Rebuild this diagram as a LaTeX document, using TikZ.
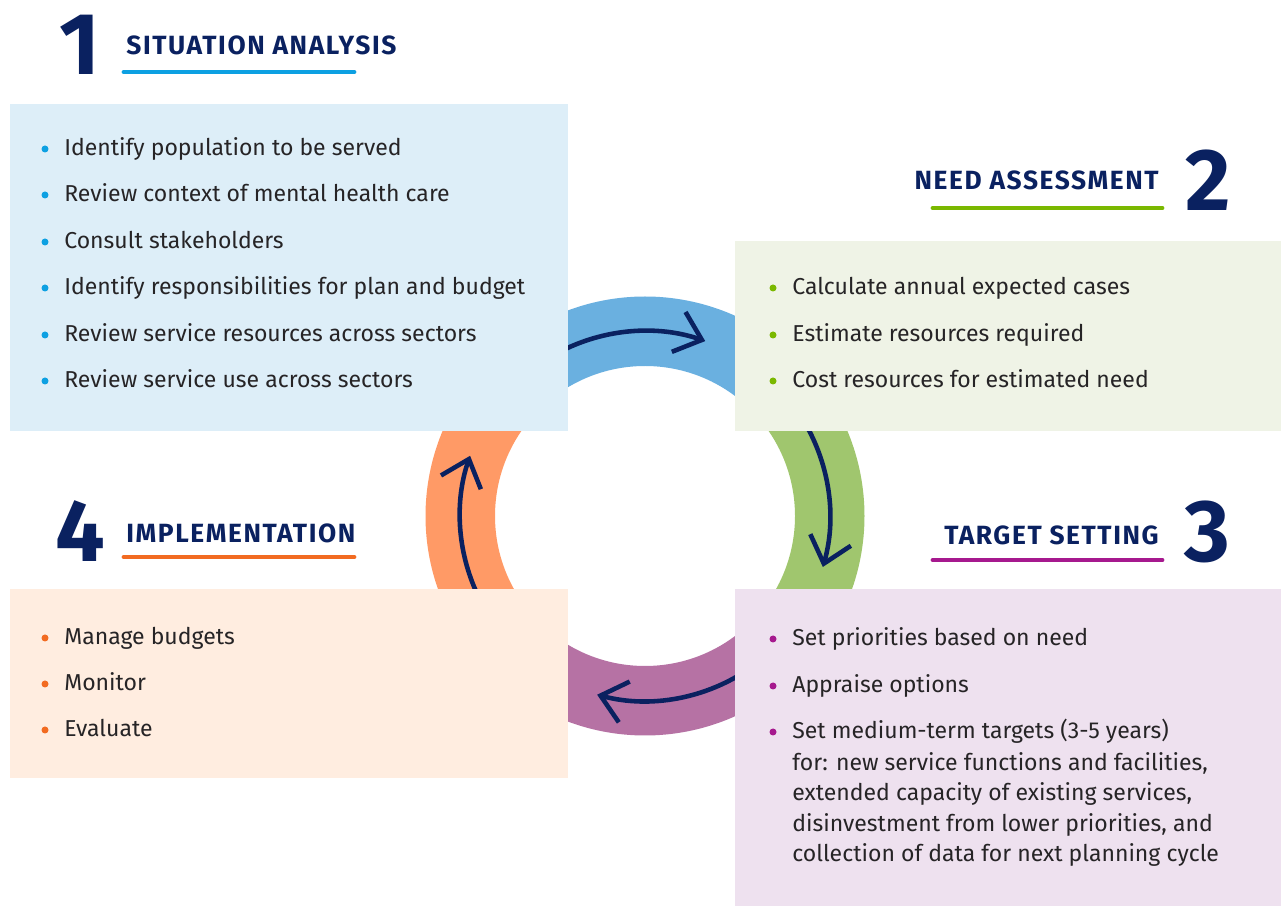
\documentclass[tikz,border=0pt]{standalone}
\usepackage{fontspec}
\setmainfont{Fira Sans}
\usepackage{tikz}
\usetikzlibrary{arrows.meta}
\definecolor{navy}{RGB}{10,33,96}
\definecolor{txt}{RGB}{38,36,38}
\definecolor{boxblue}{RGB}{221,238,248}
\definecolor{boxgreen}{RGB}{239,243,230}
\definecolor{boxpurple}{RGB}{238,225,239}
\definecolor{boxorange}{RGB}{255,237,224}
\definecolor{ringblue}{RGB}{106,176,224}
\definecolor{ringgreen}{RGB}{160,198,110}
\definecolor{ringpurple}{RGB}{182,114,164}
\definecolor{ringorange}{RGB}{255,154,102}
\definecolor{accblue}{RGB}{13,160,226}
\definecolor{accgreen}{RGB}{122,184,0}
\definecolor{accpurple}{RGB}{166,25,142}
\definecolor{accorange}{RGB}{242,107,33}

\begin{document}
\begin{tikzpicture}[x=0.02cm,y=-0.02cm,
  item/.style={anchor=base west,inner sep=0pt,text=txt,font=\fontsize{13.1}{16}\selectfont},
  head/.style={inner sep=0pt,text=navy,font=\fontsize{15}{17}\selectfont\bfseries\addfontfeatures{LetterSpace=6}},
  num/.style={inner sep=0pt,text=navy,font=\fontsize{50}{52}\selectfont\bfseries},
  uline/.style={line width=2.8pt,line cap=round},
  cyc/.style={navy,line width=2.6pt,-{Straight Barb[length=14pt,width=24pt]}}]
  \useasboundingbox (0,0) rectangle (1282,908);
  % ring
  \begin{scope}[shift={(645,516)},yscale=-1]
    \foreach \a/\c in {45/ringblue,-45/ringgreen,225/ringpurple,135/ringorange}
      \fill[\c] (\a:219.5) arc[start angle=\a,end angle=\a+90,radius=219.5]
        -- (\a+90:150) arc[start angle=\a+90,end angle=\a,radius=150] -- cycle;
    \draw[cyc] (118:185) arc[start angle=118,end angle=71,radius=185];
    \draw[cyc] (30:185) arc[start angle=30,end angle=-16,radius=185];
    \draw[cyc] (305:185) arc[start angle=305,end angle=255,radius=185];
    \draw[cyc] (205:185) arc[start angle=205,end angle=161,radius=185];
  \end{scope}
  % boxes
  \fill[boxblue] (10,104) rectangle (568,431);
  \fill[boxgreen] (735,241) rectangle (1281,431);
  \fill[boxpurple] (735,589) rectangle (1281,906);
  \fill[boxorange] (10,589) rectangle (568,778);
  % headings
  \node[num,anchor=base west] (n1) at (59,75) {1};
  \node[head,anchor=base west] (h1) at (126,55) {SITUATION ANALYSIS};
  \draw[uline,accblue] (124,72) -- (354,72);
  \node[num,anchor=base east] (n2) at (1231,211) {2};
  \node[head,anchor=base east] (h2) at (1159,190) {NEED ASSESSMENT};
  \draw[uline,accgreen] (933,208) -- (1162,208);
  \node[num,anchor=base east] (n3) at (1231,562) {3};
  \node[head,anchor=base east] (h3) at (1159,545) {TARGET SETTING};
  \draw[uline,accpurple] (933,560) -- (1162,560);
  \node[num,anchor=base west] (n4) at (55,562) {4};
  \node[head,anchor=base west] (h4) at (126,543) {IMPLEMENTATION};
  \draw[uline,accorange] (124,557) -- (354,557);
  % bullet lists
  \foreach \y/\t [count=\i] in {156/Identify population to be served,
      202/Review context of mental health care,249/Consult stakeholders,
      295/Identify responsibilities for plan and budget,
      342/Review service resources across sectors,388/Review service use across sectors}{
    \fill[accblue] (45,\y-7) circle (3.5);
    \node[item] (sa\i) at (64,\y) {\t};
  }
  \foreach \y/\t [count=\i] in {295/Calculate annual expected cases,
      342/Estimate resources required,388/Cost resources for estimated need}{
    \fill[accgreen] (773,\y-7) circle (3.5);
    \node[item] (na\i) at (792,\y) {\t};
  }
  \foreach \y/\b/\t [count=\i] in {646/1/Set priorities based on need,693/1/Appraise options,
      739/1/Set medium-term targets (3-5 years),
      770/0/{for: new service functions and facilities,},
      800/0/{extended capacity of existing services,},
      831/0/{disinvestment from lower priorities, and},
      861/0/collection of data for next planning cycle}{
    \ifnum\b=1 \fill[accpurple] (773,\y-7) circle (3.5); \fi
    \node[item] (ts\i) at (792,\y) {\t};
  }
  \foreach \y/\t [count=\i] in {645/Manage budgets,691/Monitor,737/Evaluate}{
    \fill[accorange] (45,\y-7) circle (3.5);
    \node[item] (im\i) at (64,\y) {\t};
  }
\end{tikzpicture}
\end{document}
